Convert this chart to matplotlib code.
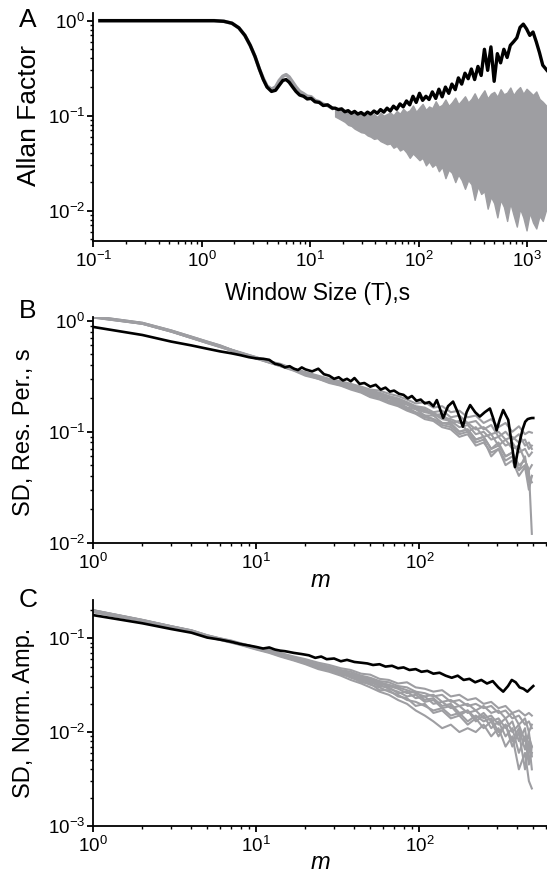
import matplotlib
matplotlib.use('Agg')
import matplotlib.pyplot as plt
from matplotlib.ticker import LogLocator, NullFormatter
import numpy as np

plt.rcParams['font.family'] = ['Liberation Sans', 'DejaVu Sans']
plt.rcParams['mathtext.fontset'] = 'custom'
plt.rcParams['mathtext.rm'] = 'Liberation Sans'
plt.rcParams['mathtext.it'] = 'Liberation Sans:italic'
plt.rcParams['mathtext.bf'] = 'Liberation Sans:bold'

GRAY = '#9e9ea2'

#%% DATA
# Panel A - Allan factor vs window size (s)
a_head_x = [0.115, 0.3, 0.6, 1.0, 1.3, 1.6, 1.9, 2.2, 2.5, 2.8, 3.1, 3.4, 3.7, 4.0, 4.4,
            4.8, 5.2, 5.6, 6.0, 6.4, 6.9, 7.4, 8.0, 8.7, 9.4, 10.2, 11.1, 12.1, 13.2, 14.5, 16.0]
a_black_head = [1.0, 1.0, 1.0, 1.0, 1.0, 0.985, 0.94, 0.84, 0.70, 0.55, 0.42, 0.31, 0.24, 0.20, 0.18,
                0.185, 0.21, 0.235, 0.24, 0.225, 0.20, 0.18, 0.165, 0.16, 0.15, 0.152, 0.14, 0.138, 0.128, 0.13, 0.12]
a_gray_head = [1.0, 1.0, 1.0, 1.0, 1.0, 0.985, 0.94, 0.84, 0.70, 0.55, 0.42, 0.31, 0.245, 0.205, 0.19,
               0.20, 0.235, 0.26, 0.27, 0.255, 0.225, 0.20, 0.18, 0.17, 0.16, 0.158, 0.145, 0.14, 0.132, 0.128, 0.12]

a_tail_x = [17, 18.2, 19.5, 20.9, 22.4, 24, 25.7, 27.5, 29.5, 31.6,
            33.8, 36.2, 38.8, 41.6, 44.6, 47.8, 51.2, 54.8, 58.7, 62.9,
            67.4, 72.2, 77.4, 82.9, 88.8, 95.1, 102, 109, 117, 125,
            134, 144, 154, 165, 177, 190, 203, 218, 233, 250,
            268, 287, 307, 329, 353, 378, 405, 434, 465, 498,
            533, 571, 612, 656, 702, 752, 806, 863, 925, 991,
            1062, 1137, 1218, 1305, 1398, 1530]
a_black_tail = [0.12, 0.116, 0.118, 0.11, 0.113, 0.106, 0.111, 0.104, 0.108, 0.102,
                0.109, 0.104, 0.112, 0.106, 0.116, 0.109, 0.12, 0.112, 0.126, 0.117,
                0.133, 0.124, 0.143, 0.13, 0.16, 0.138, 0.172, 0.145, 0.16, 0.148,
                0.178, 0.152, 0.19, 0.158, 0.2, 0.172, 0.215, 0.188, 0.25, 0.215,
                0.28, 0.245, 0.31, 0.24, 0.33, 0.265, 0.5, 0.3, 0.53, 0.23,
                0.45, 0.36, 0.5, 0.41, 0.55, 0.6, 0.66, 0.85, 0.92, 0.82,
                0.7, 0.76, 0.6, 0.46, 0.34, 0.3]
a_gray_upper = [0.118, 0.113, 0.116, 0.109, 0.112, 0.105, 0.108, 0.102, 0.106, 0.1,
                0.103, 0.099, 0.104, 0.097, 0.107, 0.1, 0.104, 0.108, 0.101, 0.112,
                0.105, 0.118, 0.109, 0.114, 0.128, 0.11, 0.122, 0.133, 0.115, 0.125,
                0.12, 0.142, 0.124, 0.13, 0.148, 0.127, 0.138, 0.155, 0.132, 0.145,
                0.16, 0.138, 0.15, 0.172, 0.145, 0.165, 0.185, 0.152, 0.17, 0.178,
                0.158, 0.19, 0.168, 0.175, 0.198, 0.165, 0.185, 0.2, 0.17, 0.192,
                0.178, 0.165, 0.18, 0.15, 0.14, 0.125]
a_gray_lower = [0.098, 0.094, 0.09, 0.086, 0.08, 0.078, 0.073, 0.07, 0.067, 0.066,
                0.062, 0.06, 0.057, 0.058, 0.054, 0.052, 0.05, 0.051, 0.046, 0.048,
                0.043, 0.045, 0.041, 0.036, 0.04, 0.037, 0.034, 0.036, 0.03, 0.033,
                0.029, 0.031, 0.026, 0.029, 0.022, 0.027, 0.025, 0.02, 0.024, 0.021,
                0.017, 0.021, 0.019, 0.013, 0.018, 0.015, 0.016, 0.0105, 0.014, 0.012,
                0.0085, 0.013, 0.011, 0.0078, 0.012, 0.009, 0.0068, 0.0105, 0.0085, 0.0062,
                0.0095, 0.0075, 0.0065, 0.0088, 0.0078, 0.011]

# Panels B, C - gray (surrogate) curves share one m grid
m_grid = [1, 2, 3, 4, 5, 6, 7, 8, 10, 12,
          14, 17, 20, 24, 28, 33, 38, 44, 50, 57,
          65, 74, 84, 95, 108, 122, 138, 156, 176, 198,
          222, 248, 276, 306, 338, 372, 408, 445, 470, 490]

# Panel B - SD of respiratory period (s)
b_gray = [
    [1.10, 0.96, 0.82, 0.72, 0.65, 0.60, 0.55, 0.52, 0.47, 0.43,
     0.41, 0.37, 0.345, 0.32, 0.30, 0.285, 0.27, 0.255, 0.24, 0.235,
     0.22, 0.21, 0.195, 0.18, 0.185, 0.165, 0.17, 0.15, 0.155, 0.135,
     0.14, 0.12, 0.13, 0.11, 0.12, 0.1, 0.112, 0.095, 0.1, 0.098],
    [1.08, 0.95, 0.81, 0.71, 0.64, 0.59, 0.545, 0.51, 0.46, 0.425,
     0.4, 0.36, 0.33, 0.31, 0.285, 0.27, 0.255, 0.24, 0.225, 0.21,
     0.2, 0.185, 0.175, 0.16, 0.15, 0.145, 0.13, 0.125, 0.11, 0.115,
     0.095, 0.1, 0.085, 0.09, 0.075, 0.08, 0.065, 0.07, 0.06, 0.065],
    [1.07, 0.94, 0.8, 0.7, 0.63, 0.58, 0.54, 0.5, 0.455, 0.42,
     0.39, 0.355, 0.32, 0.3, 0.275, 0.26, 0.24, 0.225, 0.205, 0.195,
     0.18, 0.17, 0.155, 0.145, 0.13, 0.125, 0.11, 0.105, 0.09, 0.095,
     0.075, 0.08, 0.065, 0.07, 0.055, 0.06, 0.045, 0.05, 0.04, 0.035],
    [1.09, 0.95, 0.81, 0.71, 0.64, 0.59, 0.55, 0.515, 0.465, 0.43,
     0.405, 0.365, 0.34, 0.31, 0.29, 0.275, 0.26, 0.245, 0.23, 0.22,
     0.205, 0.195, 0.18, 0.165, 0.16, 0.14, 0.145, 0.12, 0.125, 0.1,
     0.11, 0.09, 0.095, 0.075, 0.085, 0.07, 0.075, 0.055, 0.045, 0.012],
    [1.08, 0.94, 0.8, 0.7, 0.635, 0.585, 0.54, 0.505, 0.46, 0.42,
     0.395, 0.36, 0.335, 0.305, 0.29, 0.265, 0.25, 0.235, 0.22, 0.2,
     0.19, 0.18, 0.165, 0.15, 0.14, 0.13, 0.12, 0.115, 0.1, 0.105,
     0.085, 0.09, 0.07, 0.075, 0.06, 0.065, 0.05, 0.055, 0.045, 0.05],
    [1.1, 0.96, 0.82, 0.72, 0.65, 0.6, 0.55, 0.515, 0.47, 0.43,
     0.405, 0.37, 0.34, 0.315, 0.295, 0.28, 0.265, 0.25, 0.235, 0.225,
     0.21, 0.2, 0.185, 0.17, 0.165, 0.15, 0.155, 0.135, 0.14, 0.12,
     0.125, 0.105, 0.115, 0.09, 0.1, 0.085, 0.095, 0.075, 0.08, 0.07],
    [1.09, 0.95, 0.81, 0.71, 0.64, 0.59, 0.545, 0.51, 0.462, 0.428,
     0.4, 0.362, 0.335, 0.305, 0.28, 0.27, 0.25, 0.24, 0.215, 0.21,
     0.19, 0.185, 0.165, 0.16, 0.14, 0.14, 0.12, 0.12, 0.1, 0.105,
     0.085, 0.09, 0.07, 0.08, 0.06, 0.065, 0.045, 0.06, 0.035, 0.04],
    [1.08, 0.95, 0.81, 0.71, 0.64, 0.59, 0.55, 0.51, 0.465, 0.43,
     0.4, 0.368, 0.338, 0.31, 0.29, 0.275, 0.258, 0.24, 0.228, 0.215,
     0.2, 0.19, 0.178, 0.165, 0.155, 0.148, 0.135, 0.13, 0.12, 0.12,
     0.105, 0.11, 0.095, 0.1, 0.085, 0.09, 0.08, 0.085, 0.07, 0.075],
    [1.07, 0.94, 0.8, 0.7, 0.63, 0.58, 0.54, 0.5, 0.458, 0.422,
     0.392, 0.358, 0.328, 0.3, 0.28, 0.262, 0.245, 0.23, 0.21, 0.2,
     0.185, 0.175, 0.16, 0.148, 0.135, 0.13, 0.115, 0.11, 0.095, 0.1,
     0.08, 0.085, 0.06, 0.07, 0.05, 0.055, 0.04, 0.048, 0.03, 0.04],
]
b_black_x = [1, 2, 3, 4, 5, 6, 7, 8, 9, 10, 11, 12, 13, 14, 15, 16, 17, 18, 19, 20,
             22, 24, 26, 28, 30, 32, 34, 36, 38, 40, 43, 46, 50, 54, 58, 62, 66, 70, 75, 80,
             85, 90, 96, 102, 108, 115, 122, 128, 134, 140, 150, 161, 172, 185, 195, 205,
             220, 235, 252, 271, 285, 298, 312, 327, 340, 351, 368, 386, 400, 415, 430,
             446, 462, 478, 490, 500]
b_black = [0.88, 0.745, 0.65, 0.6, 0.56, 0.53, 0.51, 0.49, 0.47, 0.458, 0.455, 0.445, 0.41, 0.4,
           0.38, 0.39, 0.37, 0.36, 0.38, 0.365, 0.35, 0.37, 0.33, 0.32, 0.3, 0.31, 0.29, 0.3,
           0.285, 0.305, 0.27, 0.275, 0.255, 0.265, 0.24, 0.25, 0.23, 0.235, 0.22, 0.215, 0.2,
           0.21, 0.19, 0.195, 0.18, 0.185, 0.17, 0.193, 0.16, 0.133, 0.17, 0.187, 0.15, 0.111,
           0.15, 0.174, 0.15, 0.137, 0.15, 0.162, 0.13, 0.103, 0.13, 0.157, 0.14, 0.128, 0.08,
           0.048, 0.065, 0.084, 0.105, 0.123, 0.13, 0.132, 0.133, 0.133]

# Panel C - SD of normalised amplitude
c_gray = [
    [0.2, 0.158, 0.135, 0.122, 0.108, 0.1, 0.095, 0.089, 0.08, 0.075,
     0.07, 0.064, 0.06, 0.055, 0.052, 0.048, 0.046, 0.042, 0.041, 0.037,
     0.036, 0.033, 0.034, 0.03, 0.029, 0.027, 0.028, 0.024, 0.025, 0.022,
     0.023, 0.02, 0.021, 0.018, 0.019, 0.016, 0.017, 0.015, 0.016, 0.015],
    [0.195, 0.155, 0.133, 0.12, 0.106, 0.098, 0.092, 0.087, 0.078, 0.072,
     0.066, 0.06, 0.055, 0.05, 0.047, 0.042, 0.04, 0.036, 0.034, 0.031,
     0.03, 0.026, 0.027, 0.023, 0.024, 0.02, 0.021, 0.018, 0.019, 0.016,
     0.017, 0.014, 0.015, 0.012, 0.014, 0.01, 0.012, 0.008, 0.009, 0.007],
    [0.19, 0.152, 0.13, 0.118, 0.104, 0.096, 0.09, 0.085, 0.076, 0.07,
     0.064, 0.058, 0.053, 0.047, 0.044, 0.04, 0.036, 0.033, 0.03, 0.027,
     0.025, 0.022, 0.02, 0.017, 0.015, 0.013, 0.011, 0.012, 0.01, 0.011,
     0.01, 0.012, 0.009, 0.011, 0.007, 0.009, 0.004, 0.006, 0.003, 0.0025],
    [0.198, 0.156, 0.134, 0.121, 0.107, 0.099, 0.093, 0.088, 0.079, 0.073,
     0.068, 0.062, 0.057, 0.052, 0.049, 0.045, 0.042, 0.038, 0.036, 0.033,
     0.031, 0.029, 0.026, 0.027, 0.022, 0.023, 0.019, 0.02, 0.016, 0.017,
     0.014, 0.016, 0.013, 0.014, 0.011, 0.013, 0.008, 0.011, 0.005, 0.006],
    [0.192, 0.153, 0.131, 0.119, 0.105, 0.097, 0.091, 0.086, 0.077, 0.071,
     0.065, 0.059, 0.054, 0.049, 0.046, 0.043, 0.038, 0.035, 0.032, 0.03,
     0.027, 0.025, 0.022, 0.021, 0.019, 0.017, 0.018, 0.015, 0.016, 0.013,
     0.015, 0.013, 0.014, 0.01, 0.012, 0.007, 0.01, 0.004, 0.008, 0.004],
    [0.2, 0.157, 0.135, 0.122, 0.108, 0.1, 0.094, 0.088, 0.08, 0.074,
     0.069, 0.063, 0.058, 0.053, 0.05, 0.046, 0.044, 0.04, 0.038, 0.035,
     0.034, 0.031, 0.03, 0.027, 0.026, 0.024, 0.025, 0.021, 0.022, 0.019,
     0.02, 0.018, 0.019, 0.016, 0.017, 0.014, 0.015, 0.012, 0.013, 0.011],
    [0.196, 0.155, 0.132, 0.12, 0.106, 0.098, 0.092, 0.086, 0.078, 0.072,
     0.067, 0.061, 0.056, 0.051, 0.048, 0.044, 0.041, 0.037, 0.035, 0.032,
     0.029, 0.027, 0.024, 0.025, 0.021, 0.022, 0.018, 0.019, 0.015, 0.017,
     0.013, 0.015, 0.011, 0.013, 0.009, 0.011, 0.006, 0.009, 0.0045, 0.007],
    [0.194, 0.154, 0.132, 0.119, 0.105, 0.097, 0.091, 0.086, 0.078, 0.072,
     0.066, 0.059, 0.055, 0.048, 0.046, 0.041, 0.039, 0.034, 0.033, 0.028,
     0.028, 0.024, 0.023, 0.019, 0.02, 0.016, 0.017, 0.014, 0.015, 0.012,
     0.014, 0.011, 0.013, 0.009, 0.012, 0.008, 0.011, 0.0065, 0.01, 0.0055],
    [0.199, 0.157, 0.135, 0.121, 0.107, 0.099, 0.093, 0.087, 0.079, 0.073,
     0.068, 0.061, 0.057, 0.051, 0.049, 0.044, 0.042, 0.039, 0.037, 0.034,
     0.032, 0.03, 0.028, 0.026, 0.024, 0.025, 0.021, 0.022, 0.019, 0.02,
     0.017, 0.019, 0.016, 0.017, 0.014, 0.016, 0.012, 0.014, 0.01, 0.012],
]
c_black_x = [1, 2, 3, 4, 5, 6, 7, 8, 9, 10, 11, 12, 13, 14, 15,
             17, 19, 21, 23, 25, 27, 30, 33, 36, 40, 44, 48, 52, 57, 62,
             68, 74, 80, 87, 95, 103, 112, 122, 133, 145, 158, 172, 187, 203, 220,
             240, 260, 282, 305, 327, 350, 369, 390, 412, 435, 460, 490, 500]
c_black = [0.177, 0.145, 0.126, 0.115, 0.102, 0.097, 0.092, 0.087, 0.084, 0.081,
           0.078, 0.08, 0.076, 0.074, 0.073,
           0.07, 0.068, 0.066, 0.062, 0.064, 0.06, 0.061, 0.057, 0.059, 0.056,
           0.055, 0.054, 0.052, 0.053, 0.05, 0.051, 0.048, 0.049, 0.046, 0.047,
           0.044, 0.045, 0.042, 0.043, 0.04, 0.038, 0.04, 0.036, 0.037, 0.034,
           0.036, 0.033, 0.035, 0.03, 0.027, 0.031, 0.036, 0.034, 0.03, 0.029,
           0.027, 0.03, 0.031]

#%% FUNCTIONS
def styleAxis(ax, xlim, ylim):
    ax.set_xscale('log')
    ax.set_yscale('log')
    ax.set_xlim(*xlim)
    ax.set_ylim(*ylim)
    for side in ['top', 'right']:
        ax.spines[side].set_visible(False)
    for side in ['left', 'bottom']:
        ax.spines[side].set_linewidth(1.3)
    for axis in [ax.xaxis, ax.yaxis]:
        axis.set_major_locator(LogLocator(base=10, numticks=20))
        axis.set_minor_locator(LogLocator(base=10, subs=np.arange(2, 10), numticks=20))
        axis.set_minor_formatter(NullFormatter())
    ax.tick_params(which='major', direction='out', length=4.5, width=1.3, labelsize=13.5)
    ax.tick_params(which='minor', direction='out', length=2.5, width=1.0)
    ax.tick_params(axis='y', pad=1.5)
    ax.tick_params(axis='x', pad=3)

def px(x, y):
    # pixel position (from top-left) -> figure fraction
    return x / 547, 1 - y / 875

#%% PLOT
fig = plt.figure(figsize=(5.47, 8.75), dpi=100)

axA = fig.add_axes([0.1706, 0.7249, 0.8294, 0.2599])
axB = fig.add_axes([0.1706, 0.3798, 0.8294, 0.2583])
axC = fig.add_axes([0.1706, 0.0563, 0.8294, 0.2579])

# A
axA.fill_between(a_tail_x, a_gray_lower, a_gray_upper, color=GRAY, edgecolor=GRAY, lw=1.0)
axA.plot(a_head_x, a_gray_head, color=GRAY, lw=2.6)
axA.plot(a_head_x + a_tail_x, a_black_head + a_black_tail, color='black', lw=2.4)
styleAxis(axA, (0.1, 1530), (0.00483, 1.196))

# B
for line in b_gray:
    axB.plot(m_grid, line, color=GRAY, lw=1.5)
axB.plot(b_black_x, b_black, color='black', lw=1.9)
styleAxis(axB, (1, 607), (0.01, 1.09))

# C
for line in c_gray:
    axC.plot(m_grid, line, color=GRAY, lw=1.5)
axC.plot(c_black_x, c_black, color='black', lw=1.9)
styleAxis(axC, (1, 607), (0.001, 0.2565))

# labels
fig.text(*px(29, 116), 'Allan Factor', rotation=90, ha='center', va='center', fontsize=19)
fig.text(*px(24, 432), 'SD, Res. Per., s', rotation=90, ha='center', va='center', fontsize=17)
fig.text(*px(24, 713), 'SD, Norm. Amp.', rotation=90, ha='center', va='center', fontsize=17)
fig.text(*px(318, 300), 'Window Size (T),s', ha='center', va='baseline', fontsize=16.5)
fig.text(*px(320, 587), 'm', ha='center', va='baseline', fontsize=17, style='italic')
fig.text(*px(320, 869), 'm', ha='center', va='baseline', fontsize=17, style='italic')
fig.text(*px(28, 27), 'A', ha='center', va='baseline', fontsize=19)
fig.text(*px(28, 318), 'B', ha='center', va='baseline', fontsize=19)
fig.text(*px(28, 607), 'C', ha='center', va='baseline', fontsize=19)

fig.savefig('out.png', dpi=100)
